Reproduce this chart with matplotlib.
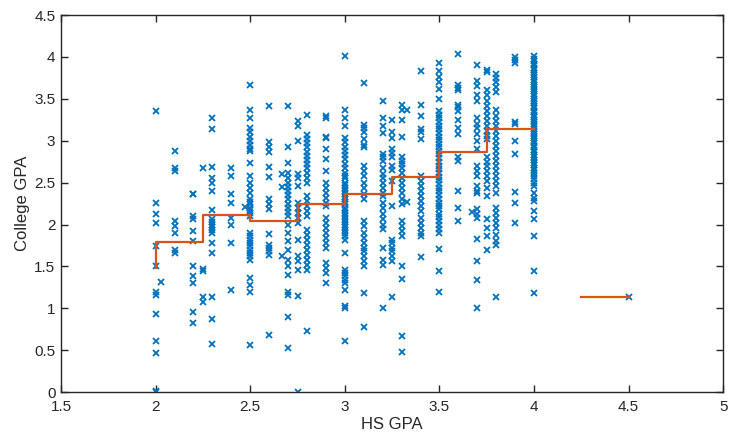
import numpy as np
import matplotlib
matplotlib.use("Agg")
import matplotlib.pyplot as plt

plt.rcParams['font.family'] = ['Liberation Sans', 'DejaVu Sans']

# college GPA, one list per high-school GPA value
college = {
    2.00: [3.36, 2.26, 2.12, 2.02, 1.74, 1.50, 1.19, 1.16, 0.93, 0.61, 0.47, 0.01, 0.0],
    2.03: [1.31],
    2.10: [2.88, 2.68, 2.64, 2.04, 1.98, 1.90, 1.70, 1.66],
    2.20: [2.37, 2.36, 2.10, 2.06, 1.92, 1.80, 1.50, 1.38, 1.30, 0.95, 0.82],
    2.25: [2.67, 1.47, 1.44, 1.14, 1.08],
    2.30: [3.27, 3.14, 2.69, 2.56, 2.49, 2.40, 2.17, 2.06, 2.03, 2.00, 1.97, 1.93,
           1.90, 1.78, 1.66, 1.14, 0.87, 0.57],
    2.40: [2.68, 2.58, 2.36, 2.26, 2.08, 2.00, 1.78, 1.22],
    2.47: [2.21],
    2.50: [3.67, 3.37, 3.27, 3.15, 3.10, 3.05, 3.00, 2.95, 2.90, 2.88, 2.74, 2.58,
           2.50, 2.44, 2.38, 2.30, 2.27, 2.24, 2.20, 2.17, 2.14, 2.10, 1.90, 1.86,
           1.82, 1.78, 1.74, 1.70, 1.66, 1.62, 1.58, 1.36, 1.28, 1.20, 0.56],
    2.60: [3.42, 2.98, 2.92, 2.86, 2.69, 2.57, 2.30, 2.24, 2.18, 1.89, 1.76, 1.72,
           1.68, 1.64, 0.68],
    2.67: [2.60, 2.45, 1.62],
    2.70: [3.42, 2.93, 2.73, 2.62, 2.55, 2.50, 2.45, 2.40, 2.35, 2.30, 2.25, 2.20,
           2.15, 2.10, 2.00, 1.90, 1.80, 1.70, 1.58, 1.50, 1.40, 1.20, 1.16, 0.90, 0.52],
    2.75: [3.23, 3.18, 3.00, 2.60, 2.56, 2.46, 2.26, 2.20, 2.14, 2.08, 2.02, 1.82,
           1.62, 1.56, 1.46, 1.15, 0.0],
    2.80: [3.31, 3.07, 3.02, 2.97, 2.92, 2.87, 2.82, 2.77, 2.72, 2.67, 2.62, 2.56,
           2.50, 2.34, 2.28, 2.22, 2.16, 2.10, 1.94, 1.88, 1.82, 1.76, 1.70, 1.64,
           1.58, 1.52, 1.46, 0.73],
    2.90: [3.29, 3.27, 3.05, 3.03, 2.90, 2.78, 2.64, 2.50, 2.44, 2.38, 2.32, 2.26,
           2.22, 2.08, 2.02, 1.96, 1.90, 1.84, 1.78, 1.72, 1.54, 1.48, 1.42, 1.30],
    3.00: [4.01, 3.37, 3.27, 3.17, 3.03, 2.98, 2.93, 2.88, 2.83, 2.78, 2.72, 2.68,
           2.62, 2.58, 2.55, 2.50, 2.47, 2.44, 2.40, 2.37, 2.33, 2.30, 2.27, 2.24,
           2.20, 2.17, 2.14, 2.10, 2.07, 2.03, 2.00, 1.97, 1.93, 1.90, 1.86, 1.82,
           1.66, 1.46, 1.42, 1.38, 1.34, 1.30, 1.22, 1.03, 1.00, 0.61],
    3.10: [3.69, 3.19, 3.15, 3.10, 3.02, 2.95, 2.93, 2.70, 2.64, 2.58, 2.50, 2.44,
           2.37, 2.30, 2.04, 1.98, 1.90, 1.84, 1.78, 1.72, 1.68, 1.62, 1.56, 1.50,
           1.18, 0.78],
    3.20: [3.48, 3.27, 3.17, 3.09, 2.84, 2.80, 2.76, 2.68, 2.60, 2.56, 2.50, 2.44,
           2.38, 2.34, 2.26, 2.20, 2.12, 2.06, 1.99, 1.95, 1.72, 1.58, 1.52, 1.00],
    3.25: [3.25, 3.10, 3.03, 2.90, 2.85, 2.80, 2.70, 2.65, 2.52, 2.22, 1.82, 1.78,
           1.72, 1.68, 1.62, 1.56, 1.14],
    3.30: [3.43, 3.37, 3.25, 3.05, 2.80, 2.76, 2.72, 2.67, 2.62, 2.56, 2.50, 2.44,
           2.38, 2.30, 2.24, 2.04, 1.98, 1.92, 1.86, 1.50, 1.35, 0.67, 0.48],
    3.33: [3.37, 2.27],
    3.40: [3.83, 3.43, 3.30, 3.14, 3.10, 3.02, 2.58, 2.52, 2.46, 2.40, 2.34, 2.28,
           2.22, 2.16, 2.08, 2.02, 1.96, 1.90, 1.86, 1.61],
    3.50: [3.93, 3.83, 3.76, 3.70, 3.62, 3.50, 3.35, 3.31, 3.27, 3.22, 3.18, 3.14,
           3.09, 3.05, 3.01, 2.96, 2.92, 2.88, 2.84, 2.79, 2.75, 2.70, 2.66, 2.62,
           2.57, 2.53, 2.48, 2.44, 2.40, 2.35, 2.31, 2.26, 2.22, 2.18, 2.13, 2.09,
           2.04, 2.00, 1.95, 1.90, 1.71, 1.44, 1.20],
    3.60: [4.03, 3.67, 3.63, 3.60, 3.43, 3.40, 3.35, 3.25, 3.15, 3.08, 2.80, 2.76,
           2.40, 2.20, 2.04],
    3.67: [2.15],
    3.70: [3.90, 3.71, 3.65, 3.55, 3.48, 3.27, 3.20, 3.15, 3.08, 3.00, 2.90, 2.70,
           2.64, 2.58, 2.46, 2.40, 2.38, 2.18, 2.12, 2.08, 1.83, 1.56, 1.34, 1.00],
    3.75: [3.84, 3.82, 3.60, 3.55, 3.48, 3.42, 3.36, 3.30, 3.24, 3.18, 3.12, 3.06,
           3.02, 2.80, 2.75, 2.70, 2.64, 2.58, 2.52, 2.44, 2.34, 2.06, 1.96, 1.86, 1.70],
    3.80: [3.80, 3.75, 3.70, 3.64, 3.58, 3.37, 3.30, 3.24, 3.18, 3.12, 3.06, 3.00,
           2.94, 2.88, 2.82, 2.76, 2.70, 2.64, 2.58, 2.52, 2.46, 2.38, 2.20, 2.14,
           2.08, 2.02, 1.96, 1.88, 1.80, 1.76, 1.14],
    3.90: [4.00, 3.96, 3.93, 3.22, 3.20, 3.00, 2.84, 2.39, 2.26, 2.02],
    4.00: [4.01, 3.98, 3.95, 3.92, 3.90, 3.87, 3.84, 3.81, 3.78, 3.76, 3.73, 3.70,
           3.67, 3.64, 3.62, 3.59, 3.56, 3.53, 3.50, 3.48, 3.45, 3.42, 3.39, 3.36,
           3.34, 3.31, 3.28, 3.25, 3.22, 3.20, 3.17, 3.14, 3.11, 3.08, 3.06, 3.03,
           3.00, 2.97, 2.94, 2.92, 2.89, 2.86, 2.83, 2.80, 2.77, 2.74, 2.71, 2.68,
           2.65, 2.62, 2.58, 2.54, 2.50, 2.46, 2.38, 2.32, 2.28, 2.16, 2.06, 1.86,
           1.45, 1.18],
    4.50: [1.13],
}

# binned mean (step line)
step_x = [2.0, 2.0, 2.25, 2.25, 2.5, 2.5, 2.75, 2.75, 3.0, 3.0, 3.25, 3.25,
          3.5, 3.5, 3.75, 3.75, 4.0, np.nan, 4.25, 4.5]
step_y = [1.48, 1.79, 1.79, 2.11, 2.11, 2.04, 2.04, 2.25, 2.25, 2.36, 2.36, 2.57,
          2.57, 2.86, 2.86, 3.14, 3.14, np.nan, 1.13, 1.13]

hs = np.concatenate([[k] * len(v) for k, v in college.items()])
col = np.concatenate([v for v in college.values()])

fig = plt.figure(figsize=(7.35, 4.43), dpi=100)
ax = fig.add_axes([0.083, 0.115, 0.901, 0.851])

ax.plot(hs, col, 'x', color='#0072BD', markersize=4.8, markeredgewidth=1.3)
ax.plot(step_x, step_y, '-', color='#D95319', linewidth=1.6)

ax.set_xlim(1.5, 5)
ax.set_ylim(0, 4.5)
ax.set_xticks(np.arange(1.5, 5.01, 0.5))
ax.set_yticks(np.arange(0, 4.51, 0.5))
ax.set_xticklabels(['1.5', '2', '2.5', '3', '3.5', '4', '4.5', '5'])
ax.set_yticklabels(['0', '0.5', '1', '1.5', '2', '2.5', '3', '3.5', '4', '4.5'])
ax.tick_params(direction='in', top=True, right=True, length=5, width=1,
               labelsize=11, colors='#262626')
ax.tick_params(axis='x', pad=6)
ax.tick_params(axis='y', pad=4)
for s in ax.spines.values():
    s.set_color('#262626')
    s.set_linewidth(1.0)

ax.set_xlabel('HS GPA', fontsize=12, color='#262626', labelpad=2)
ax.set_ylabel('College GPA', fontsize=12, color='#262626', labelpad=3)

fig.savefig('out.png', dpi=100)
